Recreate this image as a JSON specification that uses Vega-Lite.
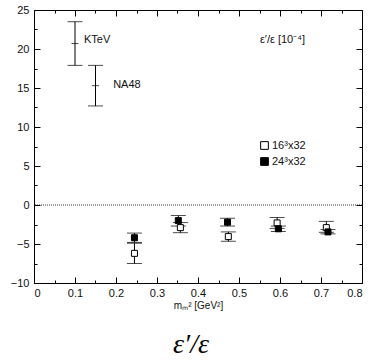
{
  "$schema": "https://vega.github.io/schema/vega-lite/v6.json",
  "width": 328,
  "height": 273,
  "autosize": "none",
  "padding": {"left": 34, "top": 10, "right": 11, "bottom": 78},
  "background": "white",
  "config": {
    "view": {"stroke": "black", "strokeWidth": 1},
    "font": "Liberation Sans",
    "axis": {"grid": false, "domain": false, "tickColor": "black", "labelColor": "#111", "labelFont": "Liberation Sans", "labelFontSize": 11, "titleFont": "Liberation Sans", "titleFontWeight": "normal", "titleColor": "#111"}
  },
  "datasets": {
    "pts": [
      {"s": "KTeV", "x": 0.1, "y": 20.7, "lo": 17.9, "hi": 23.5},
      {"s": "NA48", "x": 0.15, "y": 15.3, "lo": 12.7, "hi": 17.9},
      {"s": "16³x32", "x": 0.245, "y": -6.2, "lo": -7.5, "hi": -4.9},
      {"s": "16³x32", "x": 0.357, "y": -2.9, "lo": -3.55, "hi": -2.25},
      {"s": "16³x32", "x": 0.474, "y": -4.05, "lo": -4.65, "hi": -3.45},
      {"s": "16³x32", "x": 0.593, "y": -2.3, "lo": -3.0, "hi": -1.6},
      {"s": "16³x32", "x": 0.713, "y": -2.9, "lo": -3.5, "hi": -2.1},
      {"s": "24³x32", "x": 0.245, "y": -4.2, "lo": -4.8, "hi": -3.6},
      {"s": "24³x32", "x": 0.352, "y": -2.0, "lo": -2.7, "hi": -1.35},
      {"s": "24³x32", "x": 0.472, "y": -2.2, "lo": -2.7, "hi": -1.7},
      {"s": "24³x32", "x": 0.596, "y": -3.05, "lo": -3.4, "hi": -2.7},
      {"s": "24³x32", "x": 0.717, "y": -3.45, "lo": -3.7, "hi": -3.15}
    ],
    "one": [{"k": 1}]
  },
  "resolve": {"axis": {"x": "independent", "y": "independent"}},
  "layer": [
    {
      "data": {"name": "pts"},
      "mark": {"type": "rule", "color": "black", "strokeWidth": 1},
      "encoding": {
        "x": {"field": "x", "type": "quantitative", "scale": {"domain": [0, 0.8], "nice": false, "zero": false},
          "axis": {"orient": "bottom", "values": [0, 0.1, 0.2, 0.3, 0.4, 0.5, 0.6, 0.7, 0.8], "format": "~g", "tickSize": -6, "labelPadding": 10, "title": "mₘ² [GeV²]", "titleFontSize": 10, "titlePadding": 2}},
        "y": {"field": "lo", "type": "quantitative", "scale": {"domain": [-10, 25], "nice": false, "zero": false},
          "axis": {"orient": "left", "values": [-10, -5, 0, 5, 10, 15, 20, 25], "tickSize": -6, "labelPadding": 11, "title": null}},
        "y2": {"field": "hi"}
      }
    },
    {
      "data": {"name": "pts"},
      "mark": {"type": "tick", "orient": "horizontal", "color": "black", "size": 15, "thickness": 1},
      "encoding": {
        "x": {"field": "x", "type": "quantitative", "scale": {"domain": [0, 0.8], "nice": false, "zero": false},
          "axis": {"orient": "top", "values": [0, 0.1, 0.2, 0.3, 0.4, 0.5, 0.6, 0.7, 0.8], "tickSize": -6, "labels": false, "title": null}},
        "y": {"field": "lo", "type": "quantitative", "scale": {"domain": [-10, 25], "nice": false, "zero": false},
          "axis": {"orient": "right", "values": [-10, -5, 0, 5, 10, 15, 20, 25], "tickSize": -6, "labels": false, "title": null}}
      }
    },
    {
      "data": {"name": "pts"},
      "mark": {"type": "tick", "orient": "horizontal", "color": "black", "size": 15, "thickness": 1},
      "encoding": {
        "x": {"field": "x", "type": "quantitative", "scale": {"domain": [0, 0.8], "nice": false, "zero": false},
          "axis": {"orient": "bottom", "values": [0.05, 0.15, 0.25, 0.35, 0.45, 0.55, 0.65, 0.75], "tickSize": -3, "labels": false, "title": null}},
        "y": {"field": "hi", "type": "quantitative", "scale": {"domain": [-10, 25], "nice": false, "zero": false},
          "axis": {"orient": "left", "values": [-7.5, -2.5, 2.5, 7.5, 12.5, 17.5, 22.5], "tickSize": -3, "labels": false, "title": null}}
      }
    },
    {
      "data": {"name": "pts"},
      "transform": [{"filter": "datum.s === 'KTeV' || datum.s === 'NA48'"}],
      "mark": {"type": "tick", "orient": "horizontal", "color": "black", "size": 7, "thickness": 1},
      "encoding": {
        "x": {"field": "x", "type": "quantitative", "scale": {"domain": [0, 0.8], "nice": false, "zero": false},
          "axis": {"orient": "top", "values": [0.05, 0.15, 0.25, 0.35, 0.45, 0.55, 0.65, 0.75], "tickSize": -3, "labels": false, "title": null}},
        "y": {"field": "y", "type": "quantitative", "scale": {"domain": [-10, 25], "nice": false, "zero": false},
          "axis": {"orient": "right", "values": [-7.5, -2.5, 2.5, 7.5, 12.5, 17.5, 22.5], "tickSize": -3, "labels": false, "title": null}}
      }
    },
    {
      "data": {"name": "one"},
      "mark": {"type": "rule", "color": "black", "strokeWidth": 0.8, "strokeDash": [1, 1]},
      "encoding": {"y": {"datum": 0, "type": "quantitative", "axis": null}}
    },
    {
      "data": {"name": "pts"},
      "transform": [{"filter": "datum.s !== 'KTeV' && datum.s !== 'NA48'"}],
      "mark": {"type": "point", "shape": "square", "filled": true, "size": 36, "stroke": "black", "strokeWidth": 1, "opacity": 1},
      "encoding": {
        "x": {"field": "x", "type": "quantitative", "axis": null},
        "y": {"field": "y", "type": "quantitative", "axis": null},
        "fill": {"field": "s", "type": "nominal", "scale": {"domain": ["16³x32", "24³x32"], "range": ["white", "black"]},
          "legend": {"orient": "none", "legendX": 225, "legendY": 130, "title": null, "symbolType": "square", "symbolSize": 60, "symbolStrokeColor": "black", "symbolStrokeWidth": 1, "symbolOpacity": 1, "labelFontSize": 11, "labelFont": "Liberation Sans", "labelColor": "#111", "labelOffset": 2, "rowPadding": 3, "padding": 0}}
      }
    },
    {
      "data": {"name": "one"},
      "mark": {"type": "text", "text": "KTeV", "align": "left", "baseline": "middle", "fontSize": 11, "color": "#111"},
      "encoding": {"x": {"datum": 0.122, "type": "quantitative", "axis": null}, "y": {"datum": 21.1, "type": "quantitative", "axis": null}}
    },
    {
      "data": {"name": "one"},
      "mark": {"type": "text", "text": "NA48", "align": "left", "baseline": "middle", "fontSize": 11, "color": "#111"},
      "encoding": {"x": {"datum": 0.193, "type": "quantitative", "axis": null}, "y": {"datum": 15.4, "type": "quantitative", "axis": null}}
    },
    {
      "data": {"name": "one"},
      "mark": {"type": "text", "text": "ε′/ε [10⁻⁴]", "align": "left", "baseline": "middle", "fontSize": 11, "color": "#111"},
      "encoding": {"x": {"datum": 0.551, "type": "quantitative", "axis": null}, "y": {"datum": 21.2, "type": "quantitative", "axis": null}}
    },
    {
      "data": {"name": "one"},
      "mark": {"type": "text", "text": "ε′/ε", "align": "center", "baseline": "middle", "fontSize": 28, "font": "Liberation Serif", "fontStyle": "italic", "color": "black"},
      "encoding": {"x": {"datum": 0.383, "type": "quantitative", "axis": null}, "y": {"datum": -17.9, "type": "quantitative", "axis": null}}
    }
  ]
}
